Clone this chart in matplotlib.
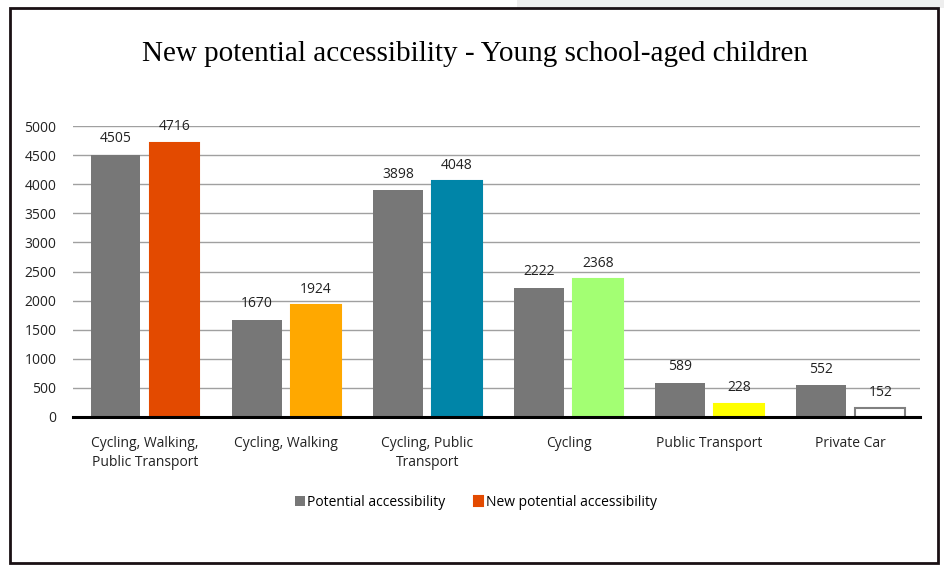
import numpy as np
import matplotlib.pyplot as plt
from matplotlib.patches import Rectangle

# chart data
categories = ["Cycling, Walking,\nPublic Transport", "Cycling, Walking", "Cycling, Public\nTransport",
              "Cycling", "Public Transport", "Private Car"]
potential = [4505, 1670, 3898, 2222, 589, 552]
new_potential = [4716, 1924, 4048, 2368, 228, 152]
new_colors = ["#E34A00", "#FFA800", "#0085A8", "#A3FF73", "#FFFF00", "#FFFFFF"]
new_edges = ["#E34A00", "#FFA800", "#0085A8", "#A3FF73", "#FFFF00", "#808080"]

plt.rcParams["font.family"] = ["Open Sans", "DejaVu Sans"]

W, H = 944, 566
fig = plt.figure(figsize=(W / 100, H / 100), dpi=100)
fig.patch.set_facecolor("white")

# light strip at top right and black frame around the chart
fig.add_artist(Rectangle((517 / W, 1 - 8 / H), 1, 8 / H, transform=fig.transFigure,
                         facecolor="#EEEEEE", edgecolor="none", zorder=0))
fig.add_artist(Rectangle((10 / W, 3 / H), 928 / W, 555 / H, transform=fig.transFigure,
                         facecolor="white", edgecolor="#1a1014", linewidth=2, zorder=1))

ax = fig.add_axes([73 / W, 1 - 417 / H, 847 / W, 291 / H], zorder=2)
ax.set_facecolor("none")

x = np.arange(len(categories))
w = 0.354
off = 0.209
b1 = ax.bar(x - off, potential, w, color="#777777", label="Potential accessibility", zorder=3)
b2 = ax.bar(x + off, new_potential, w, color=new_colors, edgecolor=new_edges, linewidth=1.5,
            label="New potential accessibility", zorder=3)

for bars, vals in [(b1, potential), (b2, new_potential)]:
    for rect, v in zip(bars, vals):
        ax.annotate(str(v), (rect.get_x() + rect.get_width() / 2, v), xytext=(0, 6),
                    textcoords="offset points", ha="center", va="bottom", fontsize=10, color="#222222")

ax.set_xlim(-0.51, 5.49)
ax.set_ylim(0, 5000)
ax.set_yticks(range(0, 5001, 500))
ax.grid(axis="y", color="#A0A0A0", linewidth=1, zorder=0)
ax.set_axisbelow(True)
for s in ["top", "right", "left"]:
    ax.spines[s].set_visible(False)
ax.spines["bottom"].set_color("black")
ax.spines["bottom"].set_linewidth(2.2)
ax.spines["bottom"].set_zorder(4)
ax.tick_params(axis="y", length=0, labelsize=10, pad=12, labelcolor="#222222")
ax.tick_params(axis="x", length=0, labelsize=10, pad=14, labelcolor="#222222")
ax.set_xticks(x)
ax.set_xticklabels(categories, linespacing=1.35)

fig.text(475 / W, 1 - 54 / H, "New potential accessibility - Young school-aged children",
         ha="center", va="center", fontsize=21, family=["Liberation Serif", "DejaVu Serif"], zorder=5)

leg = fig.legend(handles=[b1, b2[0]], labels=["Potential accessibility", "New potential accessibility"],
                 loc="center", bbox_to_anchor=(476 / W, 1 - 502 / H), ncol=2, frameon=False,
                 fontsize=10, handlelength=0.7, handleheight=0.7, handletextpad=0.2, columnspacing=2.0)
leg.set_zorder(5)

fig.savefig("out.png", dpi=100)
